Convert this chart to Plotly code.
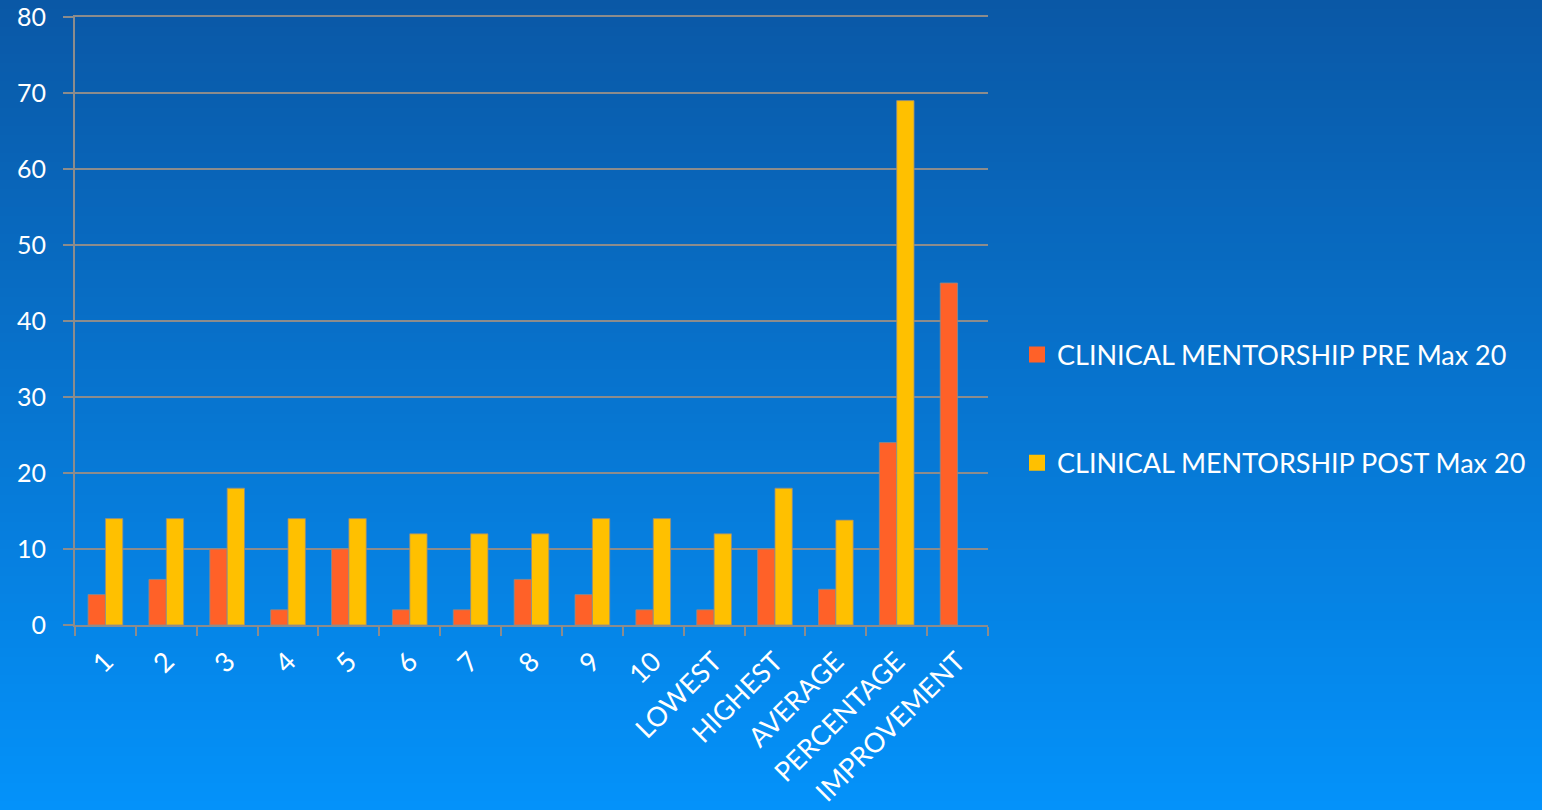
import plotly.graph_objects as go

categories = ["1", "2", "3", "4", "5", "6", "7", "8", "9", "10",
              "LOWEST", "HIGHEST", "AVERAGE", "PERCENTAGE", "IMPROVEMENT"]
pre_values = [4, 6, 10, 2, 10, 2, 2, 6, 4, 2, 2, 10, 4.7, 24, 45]
post_values = [14, 14, 18, 14, 14, 12, 12, 12, 14, 14, 12, 18, 13.8, 69, None]
pre_name = "CLINICAL MENTORSHIP PRE Max 20"
post_name = "CLINICAL MENTORSHIP POST Max 20"
pre_color = "#ff6128"
post_color = "#ffc000"

W, H = 1542, 810
ml, mr, mt, mb = 75, 554, 17, 185
pw, ph = W - ml - mr, H - mt - mb

FONT = "Lato"
FS = 27
fig = go.Figure()
fig.add_trace(go.Bar(x=categories, y=pre_values, name=pre_name, showlegend=False,
                     marker=dict(color=pre_color, line=dict(color="rgba(140,140,140,0.8)", width=1))))
fig.add_trace(go.Bar(x=categories, y=post_values, name=post_name, showlegend=False,
                     marker=dict(color=post_color, line=dict(color="rgba(140,140,140,0.8)", width=1))))
# legend entries with larger square swatches
fig.add_trace(go.Scatter(x=[None], y=[None], mode="markers", name=pre_name, legendgroup="a",
                         marker=dict(symbol="square", size=17, color=pre_color)))
fig.add_trace(go.Scatter(x=[None], y=[None], mode="markers", name=post_name, legendgroup="b",
                         marker=dict(symbol="square", size=17, color=post_color)))

# vertical gradient background via strips (top darker, bottom brighter)
top = (10, 88, 166)
bot = (4, 146, 250)
n = 90
shapes = []
for i in range(n):
    t = i / (n - 1)
    c = tuple(round(top[k] + (bot[k] - top[k]) * t) for k in range(3))
    py0 = H * i / n
    py1 = H * (i + 1) / n
    shapes.append(dict(type="rect", xref="paper", yref="paper", layer="below",
                       x0=-ml / pw - 0.01, x1=1 + mr / pw + 0.01,
                       y0=(H - mb - py1) / ph - 0.001, y1=(H - mb - py0) / ph,
                       fillcolor="rgb(%d,%d,%d)" % c, line=dict(width=0)))

fig.update_layout(
    width=W, height=H,
    margin=dict(l=ml, r=mr, t=mt, b=mb, autoexpand=False),
    paper_bgcolor="rgb(7,120,210)", plot_bgcolor="rgba(0,0,0,0)",
    barmode="group", bargap=0.43, bargroupgap=0,
    font=dict(family=FONT, color="white", size=FS),
    shapes=shapes,
    legend=dict(x=(1017 - ml) / pw, xanchor="left", y=(H - mb - 409) / ph, yanchor="middle",
                font=dict(size=FS, color="white", family=FONT), tracegroupgap=70,
                bgcolor="rgba(0,0,0,0)", itemwidth=30),
    xaxis=dict(type="category", tickangle=-45, tickson="boundaries", ticks="outside",
               ticklen=9, tickcolor="#8c8c8c", tickwidth=2, showline=True, linecolor="#8c8c8c",
               linewidth=2, mirror=True, showgrid=False, ticklabelstandoff=8,
               tickfont=dict(size=FS, color="white", family=FONT)),
    yaxis=dict(range=[0, 80], tickmode="linear", tick0=0, dtick=10, ticks="outside",
               ticklen=10, tickcolor="#8c8c8c",
               tickwidth=2, showline=True, linecolor="#8c8c8c", linewidth=2,
               gridcolor="#8c8c8c", gridwidth=2, zeroline=False, ticklabelstandoff=12,
               tickfont=dict(size=25, color="white", family=FONT)),
)
fig.write_html("out.html")
